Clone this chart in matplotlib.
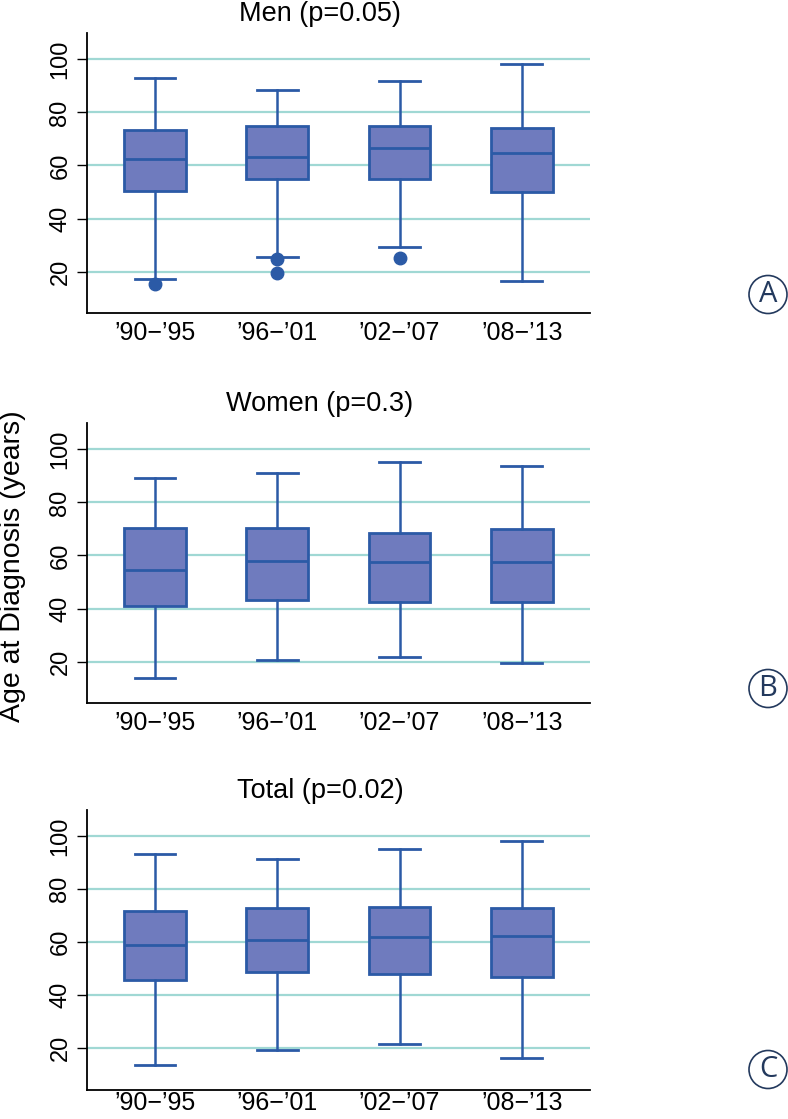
import matplotlib
matplotlib.use("Agg")
import matplotlib.pyplot as plt
from matplotlib.patches import Ellipse

plt.rcParams['font.family'] = ['Liberation Sans', 'DejaVu Sans']

periods = ["\u201990\u2212\u201995", "\u201996\u2212\u201901", "\u201902\u2212\u201907", "\u201908\u2212\u201913"]

# Men
men_title = "Men (p=0.05)"
men_whislo = [17.4, 25.5, 29.3, 16.4]
men_q1 = [50.5, 54.9, 55.0, 50.0]
men_med = [62.6, 63.2, 66.7, 64.6]
men_q3 = [73.5, 74.9, 74.9, 74.3]
men_whishi = [93.1, 88.6, 91.8, 98.1]
men_fliers = [[15.5], [24.8, 19.6], [25.2], []]

# Women
women_title = "Women (p=0.3)"
women_whislo = [13.7, 20.6, 21.9, 19.6]
women_q1 = [41.0, 43.2, 42.5, 42.6]
women_med = [54.5, 58.1, 57.6, 57.4]
women_q3 = [70.2, 70.5, 68.6, 69.9]
women_whishi = [89.3, 91.2, 95.1, 93.7]
women_fliers = [[], [], [], []]

# Total
total_title = "Total (p=0.02)"
total_whislo = [13.7, 19.5, 21.8, 16.5]
total_q1 = [45.7, 48.6, 47.9, 46.7]
total_med = [58.9, 60.8, 62.1, 62.2]
total_q3 = [71.7, 73.0, 73.4, 72.7]
total_whishi = [93.1, 91.2, 95.1, 98.1]
total_fliers = [[], [], [], []]

panel_letters = ["A", "B", "C"]
yticks = [20, 40, 60, 80, 100]

W, H = 788, 1119
fig = plt.figure(figsize=(W / 100, H / 100), dpi=100)

grid_c = "#A0D8D4"
fill_c = "#6F7BBE"
edge_c = "#2B5AA6"
navy = "#23395D"

panels = [
    (men_title, men_whislo, men_q1, men_med, men_q3, men_whishi, men_fliers, 33.3, 313.3, 294.5),
    (women_title, women_whislo, women_q1, women_med, women_q3, women_whishi, women_fliers, 423.3, 703.3, 688.5),
    (total_title, total_whislo, total_q1, total_med, total_q3, total_whishi, total_fliers, 810.0, 1090.0, 1069.5),
]

left_px, right_px = 87, 590
for i, (title, wlo, q1, med, q3, whi, fl, top_px, bot_px, circ_y) in enumerate(panels):
    ax = fig.add_axes([left_px / W, 1 - bot_px / H, (right_px - left_px) / W, (bot_px - top_px) / H])
    stats = []
    for k in range(len(periods)):
        stats.append(dict(med=med[k], q1=q1[k], q3=q3[k], whislo=wlo[k], whishi=whi[k],
                          fliers=fl[k], label=periods[k]))
    ax.bxp(stats, positions=[1, 2, 3, 4], widths=0.505, capwidths=0.333, patch_artist=True,
           boxprops=dict(facecolor=fill_c, edgecolor=edge_c, linewidth=2.0),
           medianprops=dict(color=edge_c, linewidth=2.0),
           whiskerprops=dict(color=edge_c, linewidth=1.8),
           capprops=dict(color=edge_c, linewidth=2.0),
           flierprops=dict(marker='o', markerfacecolor=edge_c, markeredgecolor=edge_c, markersize=9),
           zorder=3)
    ax.set_xlim(0.444, 4.558)
    ax.set_ylim(4.3, 109.8)
    ax.set_yticks(yticks)
    ax.set_yticklabels([str(t) for t in yticks], rotation=90, va='center', fontsize=17)
    ax.yaxis.grid(True, color=grid_c, linewidth=1.6)
    ax.xaxis.grid(False)
    ax.set_axisbelow(True)
    ax.tick_params(axis='y', length=7.2, width=1.0, pad=4, color='black')
    ax.tick_params(axis='x', length=0, pad=5.5 if i < 2 else 0.5, labelsize=18)
    for s in ['top', 'right']:
        ax.spines[s].set_visible(False)
    for s in ['left', 'bottom']:
        ax.spines[s].set_linewidth(1.3)
        ax.spines[s].set_color('black')
    ax.text((320 - left_px) / (right_px - left_px), 1 + 12 / (bot_px - top_px), title,
            transform=ax.transAxes, ha='center', va='baseline', fontsize=19.5)
    # circled letter
    cx = 768 / W
    cy = 1 - circ_y / H
    fig.patches.append(Ellipse((cx, cy), 38 / W, 38 / H, transform=fig.transFigure,
                               facecolor='none', edgecolor=navy, linewidth=1.2))
    fig.text(cx, cy, panel_letters[i], ha='center', va='center', fontsize=21,
             color=navy, family=['Open Sans', 'DejaVu Sans'])

fig.text(13 / W, 1 - 566 / H, "Age at Diagnosis (years)", rotation=90, ha='center', va='center',
         fontsize=20.5)

fig.savefig("out.png", dpi=100)
